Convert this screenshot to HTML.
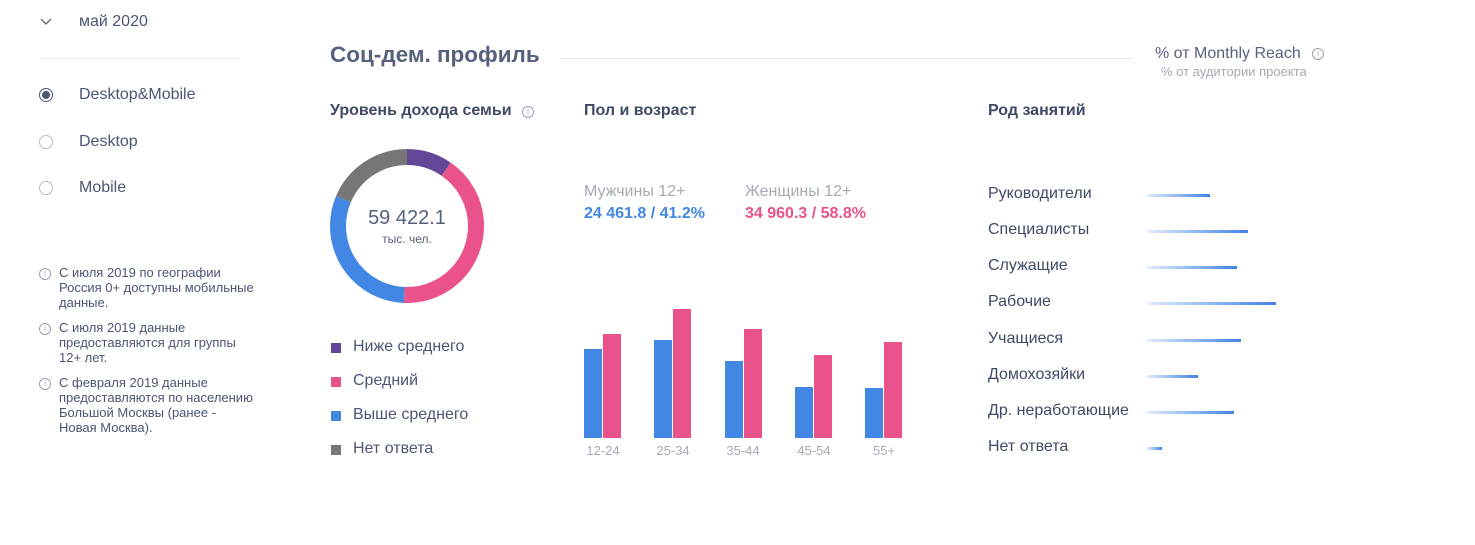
<!DOCTYPE html>
<html><head><meta charset="utf-8"><style>
body{margin:0;width:1475px;height:545px;background:#fff;font-family:"Liberation Sans",sans-serif;position:relative;overflow:hidden;color:#4a5674}
.a{position:absolute;white-space:nowrap}
.radio{position:absolute;width:12px;height:12px;border:1px solid #b8bcc8;border-radius:50%}
.note{position:absolute;font-size:13px;line-height:15px;color:#4a5674;width:200px}
.ic{position:absolute;width:10px;height:10px;border:1px solid #9aa0b0;border-radius:50%;font-size:8px;line-height:10px;text-align:center;color:#9aa0b0}
.leg{position:absolute;width:10px;height:10px}
.occ{position:absolute;left:988px;font-size:16px;color:#3e4a66}
.ob{position:absolute;left:1147px;height:3px;background:linear-gradient(90deg,#e3ecfb,#3f83e6)}
.bar{position:absolute;width:18px}
.ag{position:absolute;top:443px;font-size:13px;color:#a5aab8;width:40px;text-align:center}
</style></head><body>
<svg style="position:absolute;left:40px;top:18px" width="12" height="8"><path d="M1 1 L6 6 L11 1" fill="none" stroke="#666" stroke-width="1.3"/></svg>
<div class="a" style="left:79px;top:13px;font-size:16px;color:#4a5674">май 2020</div>
<div style="position:absolute;left:40px;top:58px;width:200px;height:1px;background:#eceef3"></div>
<div class="radio" style="left:39px;top:88px;border-color:#4a5674"><div style="position:absolute;left:2px;top:2px;width:8px;height:8px;border-radius:50%;background:#4a5674"></div></div>
<div class="a" style="left:79px;top:86px;font-size:16px">Desktop&amp;Mobile</div>
<div class="radio" style="left:39px;top:135px"></div>
<div class="a" style="left:79px;top:133px;font-size:16px">Desktop</div>
<div class="radio" style="left:39px;top:181px"></div>
<div class="a" style="left:79px;top:179px;font-size:16px">Mobile</div>
<div class="ic" style="left:39px;top:268px">i</div>
<div class="note" style="left:59px;top:265px">С июля 2019 по географии<br>Россия 0+ доступны мобильные<br>данные.</div>
<div class="ic" style="left:39px;top:323px">i</div>
<div class="note" style="left:59px;top:320px">С июля 2019 данные<br>предоставляются для группы<br>12+ лет.</div>
<div class="ic" style="left:39px;top:378px">i</div>
<div class="note" style="left:59px;top:375px">С февраля 2019 данные<br>предоставляются по населению<br>Большой Москвы (ранее -<br>Новая Москва).</div>

<div class="a" style="left:330px;top:42px;font-size:22.5px;font-weight:bold;color:#56617e">Соц-дем. профиль</div>
<div style="position:absolute;left:560px;top:58px;width:572px;height:1px;background:#e4e6ee"></div>
<div class="a" style="left:1155px;top:45px;font-size:16px;color:#56617e">% от Monthly Reach</div>
<div class="ic" style="left:1312px;top:48px">i</div>
<div class="a" style="left:1161px;top:64px;font-size:13px;color:#a5aab8">% от аудитории проекта</div>

<div class="a" style="left:330px;top:102px;font-size:16px;font-weight:bold;color:#3e4a66">Уровень дохода семьи</div>
<div class="ic" style="left:522px;top:106px">i</div>
<svg style="position:absolute;left:0;top:0" width="1475" height="545">
<g transform="translate(407,226) rotate(-90)" fill="none" stroke-width="16">
<circle r="69" stroke="#65479a" stroke-dasharray="41.6 1000" stroke-dashoffset="0"/>
<circle r="69" stroke="#e9528a" stroke-dasharray="177.8 1000" stroke-dashoffset="-41.6"/>
<circle r="69" stroke="#4287e4" stroke-dasharray="133.2 1000" stroke-dashoffset="-219.4"/>
<circle r="69" stroke="#767676" stroke-dasharray="81 1000" stroke-dashoffset="-352.6"/>
</g></svg>
<div class="a" style="left:337px;top:207px;width:140px;text-align:center;font-size:20px;color:#56617e">59 422.1</div>
<div class="a" style="left:337px;top:232px;width:140px;text-align:center;font-size:12px;color:#56617e">тыс. чел.</div>
<div class="leg" style="left:331px;top:343px;background:#65479a"></div><div class="a" style="left:353px;top:338px;font-size:16px">Ниже среднего</div>
<div class="leg" style="left:331px;top:377px;background:#e9528a"></div><div class="a" style="left:353px;top:372px;font-size:16px">Средний</div>
<div class="leg" style="left:331px;top:411px;background:#4287e4"></div><div class="a" style="left:353px;top:406px;font-size:16px">Выше среднего</div>
<div class="leg" style="left:331px;top:445px;background:#767676"></div><div class="a" style="left:353px;top:440px;font-size:16px">Нет ответа</div>

<div class="a" style="left:584px;top:102px;font-size:16px;font-weight:bold;color:#3e4a66">Пол и возраст</div>
<div class="a" style="left:584px;top:183px;font-size:16px;color:#a5aab8">Мужчины 12+</div>
<div class="a" style="left:584px;top:205px;font-size:16px;font-weight:bold;color:#4287e4">24 461.8 / 41.2%</div>
<div class="a" style="left:745px;top:183px;font-size:16px;color:#a5aab8">Женщины 12+</div>
<div class="a" style="left:745px;top:205px;font-size:16px;font-weight:bold;color:#e9528a">34 960.3 / 58.8%</div>

<div class="bar" style="left:584px;top:349px;height:89px;background:#4287e4"></div>
<div class="bar" style="left:603px;top:334px;height:104px;background:#e9528a"></div>
<div class="bar" style="left:654px;top:340px;height:98px;background:#4287e4"></div>
<div class="bar" style="left:673px;top:309px;height:129px;background:#e9528a"></div>
<div class="bar" style="left:725px;top:361px;height:77px;background:#4287e4"></div>
<div class="bar" style="left:744px;top:329px;height:109px;background:#e9528a"></div>
<div class="bar" style="left:795px;top:387px;height:51px;background:#4287e4"></div>
<div class="bar" style="left:814px;top:355px;height:83px;background:#e9528a"></div>
<div class="bar" style="left:865px;top:388px;height:50px;background:#4287e4"></div>
<div class="bar" style="left:884px;top:342px;height:96px;background:#e9528a"></div>
<div class="ag" style="left:583px">12-24</div>
<div class="ag" style="left:653px">25-34</div>
<div class="ag" style="left:723px">35-44</div>
<div class="ag" style="left:794px">45-54</div>
<div class="ag" style="left:864px">55+</div>

<div class="a" style="left:988px;top:102px;font-size:16px;font-weight:bold;color:#3e4a66">Род занятий</div>
<div class="occ" style="top:185px">Руководители</div><div class="ob" style="top:194px;width:63px"></div>
<div class="occ" style="top:221px">Специалисты</div><div class="ob" style="top:230px;width:101px"></div>
<div class="occ" style="top:257px">Служащие</div><div class="ob" style="top:266px;width:90px"></div>
<div class="occ" style="top:293px">Рабочие</div><div class="ob" style="top:302px;width:129px"></div>
<div class="occ" style="top:330px">Учащиеся</div><div class="ob" style="top:339px;width:94px"></div>
<div class="occ" style="top:366px">Домохозяйки</div><div class="ob" style="top:375px;width:51px"></div>
<div class="occ" style="top:402px">Др. неработающие</div><div class="ob" style="top:411px;width:87px"></div>
<div class="occ" style="top:438px">Нет ответа</div><div class="ob" style="top:447px;width:15px"></div>
</body></html>
